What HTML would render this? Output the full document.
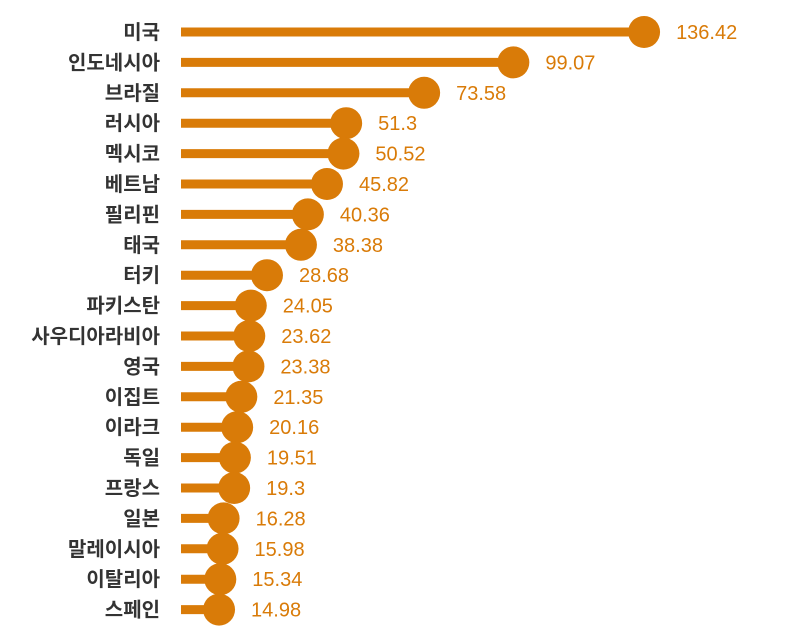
<!DOCTYPE html>
<html><head><meta charset="utf-8"><style>
body{margin:0;background:#fff}
svg{display:block}
.lab{font-family:"Liberation Sans","Noto Sans CJK KR",sans-serif;font-size:20px;font-weight:bold;fill:#333}
.val{font-family:"Liberation Sans","Noto Sans CJK KR",sans-serif;font-size:20px;fill:#d97b08}
</style></head><body>
<svg id="chart" width="800" height="629"></svg>
<script>
const categories=["미국","인도네시아","브라질","러시아","멕시코","베트남","필리핀","태국","터키","파키스탄","사우디아라비아","영국","이집트","이라크","독일","프랑스","일본","말레이시아","이탈리아","스페인"];
const values=[136.42,99.07,73.58,51.3,50.52,45.82,40.36,38.38,28.68,24.05,23.62,23.38,21.35,20.16,19.51,19.3,16.28,15.98,15.34,14.98];
const labels=["136.42","99.07","73.58","51.3","50.52","45.82","40.36","38.38","28.68","24.05","23.62","23.38","21.35","20.16","19.51","19.3","16.28","15.98","15.34","14.98"];
const NS="http://www.w3.org/2000/svg";
const svg=document.getElementById('chart');
const x=v=>166.6+v*3.5;
const y=i=>32+i*30.4;
const C="#d97b08";
function mk(t,a){const e=document.createElementNS(NS,t);for(const k in a)e.setAttribute(k,a[k]);svg.appendChild(e);return e;}
categories.forEach((c,i)=>{
  const l=mk('line',{x1:181,x2:x(values[i]),y1:y(i),y2:y(i),stroke:C,'stroke-width':9});
  
  
  const d=mk('circle',{cx:x(values[i]),cy:y(i),r:16,fill:C});
  
  
  const t=mk('text',{x:160,y:y(i)+7,'text-anchor':'end',class:'lab'});
  t.textContent=c;
  
  
  const v=mk('text',{x:x(values[i])+32,y:y(i)+7,class:'val'});
  v.textContent=labels[i];
  
  
});
</script>
</body></html>
